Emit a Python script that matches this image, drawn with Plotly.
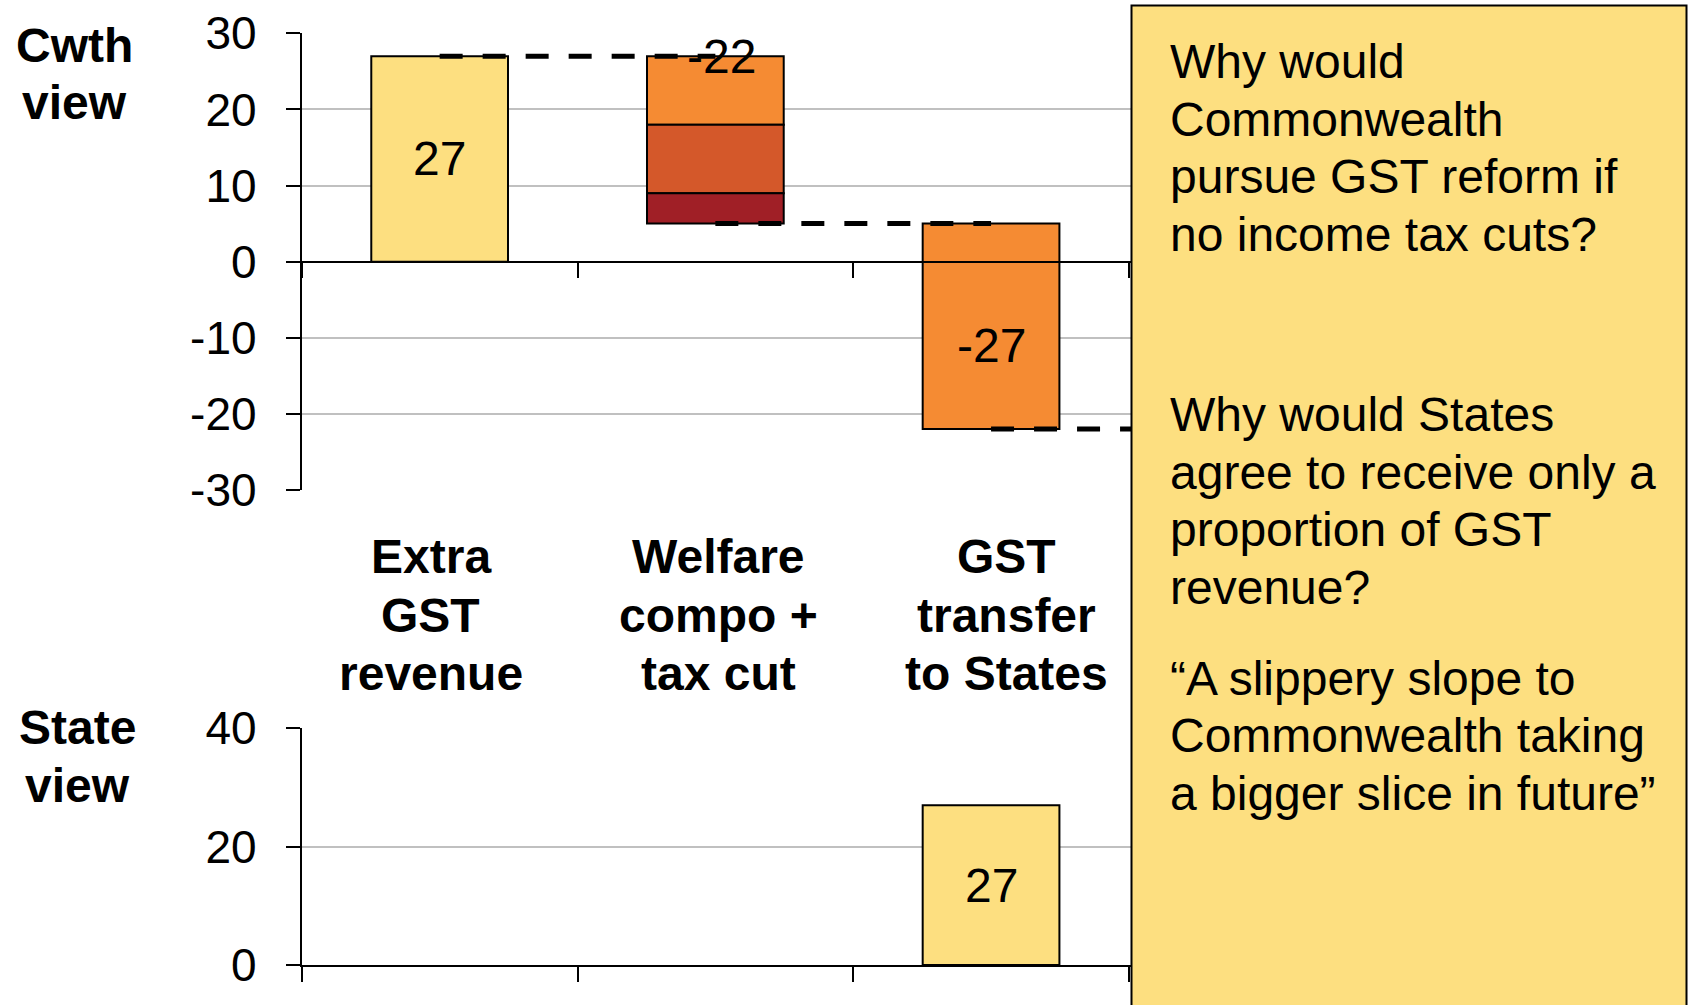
import plotly.graph_objects as go

# ---------------- data ----------------
categories = ["Extra GST revenue", "Welfare compo + tax cut", "GST transfer to States"]
category_label_lines = [["Extra", "GST", "revenue"], ["Welfare", "compo +", "tax cut"], ["GST", "transfer", "to States"]]
extra_gst_revenue = 27
welfare_components = [9, 9, 4]          # stacked pieces of the welfare compo + tax cut step
welfare_total_label = -22
gst_transfer = 27
state_view_values = [0, 0, 27]

cwth_ticks = [-30, -20, -10, 0, 10, 20, 30]
state_ticks = [0, 20, 40]

panel_titles = [["Cwth", "view"], ["State", "view"]]

box_paragraphs = [
    ["Why would", "Commonwealth", "pursue GST reform if", "no income tax cuts?"],
    ["Why would States", "agree to receive only a", "proportion of GST", "revenue?"],
    ["\u201cA slippery slope to", "Commonwealth taking", "a bigger slice in future\u201d"],
]

# ---------------- style ----------------
W, H = 1688, 1005
FONT = "Liberation Sans, Arial, sans-serif"
YELLOW = "#FDDF80"
ORANGE = "#F58B33"
DARK_ORANGE = "#D4582A"
DARK_RED = "#A01F26"
component_colors = [ORANGE, DARK_ORANGE, DARK_RED]
GRID = "#C0C0C0"
BAR_W = 0.496


def px_x(p):
    return p / W


def px_y(p):
    return 1 - p / H


x_dom = [px_x(301.8), px_x(301.8 + 4 * 275.7)]
y1_dom = [px_y(490.0), px_y(33.3)]
y2_dom = [px_y(965.0), px_y(728.3)]
y1_range = [-30, 30]
zero_pos = y1_dom[0] + (0 - y1_range[0]) / (y1_range[1] - y1_range[0]) * (y1_dom[1] - y1_dom[0])

fig = go.Figure()

# Top chart: Commonwealth view waterfall
level = 0
fig.add_trace(go.Bar(x=[0], y=[extra_gst_revenue], base=[level], width=BAR_W,
                     marker=dict(color=YELLOW, line=dict(color="black", width=2)),
                     xaxis="x", yaxis="y", showlegend=False, hoverinfo="skip"))
level_after_revenue = level + extra_gst_revenue

lvl = level_after_revenue
for comp, col in zip(welfare_components, component_colors):
    fig.add_trace(go.Bar(x=[1], y=[comp], base=[lvl - comp], width=BAR_W,
                         marker=dict(color=col, line=dict(color="black", width=2)),
                         xaxis="x", yaxis="y", showlegend=False, hoverinfo="skip"))
    lvl -= comp
level_after_welfare = lvl

level_after_transfer = level_after_welfare - gst_transfer
fig.add_trace(go.Bar(x=[2], y=[gst_transfer], base=[level_after_transfer], width=BAR_W,
                     marker=dict(color=ORANGE, line=dict(color="black", width=2)),
                     xaxis="x", yaxis="y", showlegend=False, hoverinfo="skip"))

# connector dashed lines
levels = [level_after_revenue, level_after_welfare, level_after_transfer]
for i, lv in enumerate(levels):
    fig.add_trace(go.Scatter(x=[i, i + 1], y=[lv, lv], mode="lines",
                             line=dict(color="black", width=5, dash="23px,20px"),
                             xaxis="x", yaxis="y", showlegend=False, hoverinfo="skip"))

# Bottom chart: State view
for i, v in enumerate(state_view_values):
    if v:
        fig.add_trace(go.Bar(x=[i], y=[v], base=[0], width=BAR_W,
                             marker=dict(color=YELLOW, line=dict(color="black", width=2)),
                             xaxis="x2", yaxis="y2", showlegend=False, hoverinfo="skip"))

annotations = []
lab_font = dict(family=FONT, size=48, color="black")
annotations.append(dict(x=0, y=extra_gst_revenue / 2, xref="x", yref="y", text=str(extra_gst_revenue),
                        showarrow=False, font=lab_font))
annotations.append(dict(x=1, y=level_after_revenue, xref="x", yref="y", text=str(welfare_total_label),
                        showarrow=False, font=lab_font, xshift=6))
annotations.append(dict(x=2, y=level_after_transfer / 2, xref="x", yref="y", text=str(-gst_transfer),
                        showarrow=False, font=lab_font))
for i, v in enumerate(state_view_values):
    if v:
        annotations.append(dict(x=i, y=v / 2, xref="x2", yref="y2", text=str(v),
                                showarrow=False, font=lab_font))

# category labels (one annotation per line for exact spacing)
bold_font = dict(family=FONT, size=48, color="black")
label_shift = [-9, 3, 15]
cat_line_y = [556.7, 615.0, 673.3]
for i, lines in enumerate(category_label_lines):
    for j, line in enumerate(lines):
        annotations.append(dict(x=i, y=px_y(cat_line_y[j]), xref="x", yref="paper",
                                text="<b>" + line + "</b>", showarrow=False, font=bold_font,
                                xshift=label_shift[i], xanchor="center", yanchor="middle"))

# side titles
title_pos = [(74, [46.0, 102.5]), (77, [727.5, 785.5])]
for (cx, ys), lines in zip(title_pos, panel_titles):
    for yy, line in zip(ys, lines):
        annotations.append(dict(x=px_x(cx), y=px_y(yy), xref="paper", yref="paper",
                                text="<b>" + line + "</b>", showarrow=False, font=bold_font,
                                xanchor="center", yanchor="middle"))

# text box contents
para_tops = [61.7, 414.5, 678.0]
line_gap = 57.6
box_font = dict(family=FONT, size=48, color="black")
for top, para in zip(para_tops, box_paragraphs):
    for j, line in enumerate(para):
        annotations.append(dict(x=px_x(1168), y=px_y(top + j * line_gap), xref="paper", yref="paper",
                                text=line, showarrow=False, font=box_font, xanchor="left",
                                yanchor="middle", align="left"))

shapes = [dict(type="rect", xref="paper", yref="paper", x0=px_x(1131.5), x1=px_x(1686.5),
               y0=-0.05, y1=px_y(5.5), fillcolor=YELLOW, line=dict(color="black", width=2),
               layer="above")]

boundaries = [-0.5, 0.5, 1.5, 2.5, 3.5]
tick_font = dict(family=FONT, size=46, color="black")

fig.update_layout(
    template="none",
    width=W, height=H, margin=dict(l=0, r=0, t=0, b=0, pad=0, autoexpand=False),
    paper_bgcolor="white", plot_bgcolor="white",
    barmode="overlay", showlegend=False,
    annotations=annotations, shapes=shapes,
    xaxis=dict(domain=x_dom, range=[-0.5, 3.5], anchor="free", position=zero_pos, automargin=False,
               showline=True, linecolor="black", linewidth=2, ticks="outside",
               tickvals=boundaries, ticklen=15, tickwidth=2, tickcolor="black",
               showticklabels=False, showgrid=False, zeroline=False),
    yaxis=dict(domain=y1_dom, range=y1_range, anchor="x", automargin=False,
               tickvals=cwth_ticks, ticktext=[str(v) for v in cwth_ticks],
               showline=True, linecolor="black", linewidth=2, ticks="outside",
               ticklen=14, tickwidth=2, tickcolor="black", tickfont=tick_font,
               ticklabelstandoff=20,
               showgrid=True, gridcolor=GRID, gridwidth=2, zeroline=False),
    xaxis2=dict(domain=x_dom, range=[-0.5, 3.5], anchor="y2", automargin=False,
                showline=True, linecolor="black", linewidth=2, ticks="outside",
                tickvals=boundaries, ticklen=15, tickwidth=2, tickcolor="black",
                showticklabels=False, showgrid=False, zeroline=False),
    yaxis2=dict(domain=y2_dom, range=[0, 40], anchor="x2", automargin=False,
                tickvals=state_ticks, ticktext=[str(v) for v in state_ticks],
                showline=True, linecolor="black", linewidth=2, ticks="outside",
                ticklen=14, tickwidth=2, tickcolor="black", tickfont=tick_font,
                ticklabelstandoff=20,
                showgrid=True, gridcolor=GRID, gridwidth=2, zeroline=False),
)

fig.write_html("out.html", config={"displayModeBar": False},
               post_script="document.body.style.margin='0';document.body.style.overflow='hidden';")
